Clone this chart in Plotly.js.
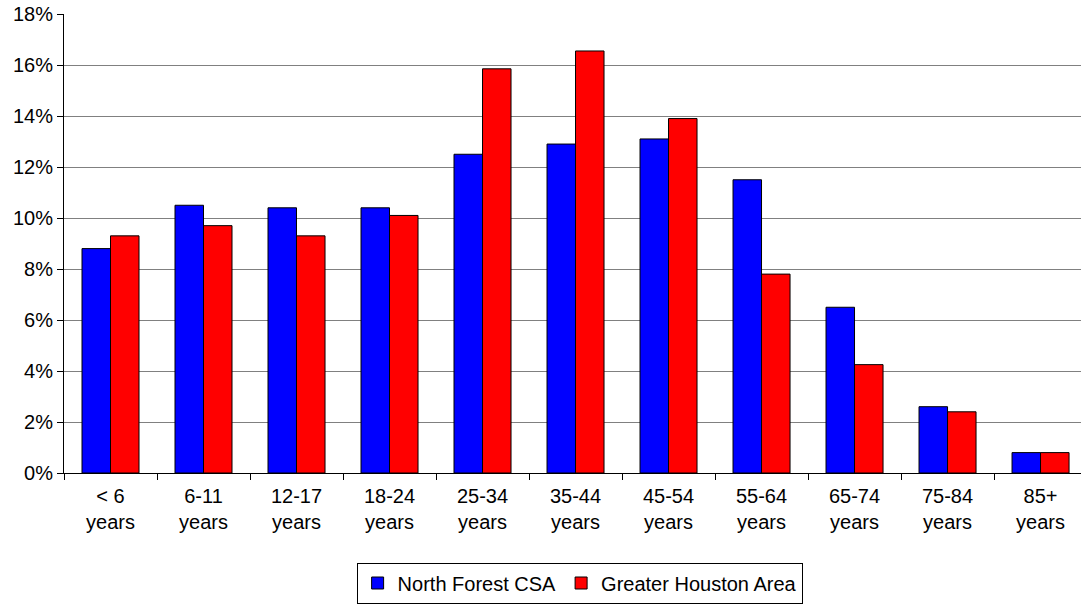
<!DOCTYPE html>
<html>
<head>
<meta charset="utf-8">
<script src="https://cdn.plot.ly/plotly-3.0.1.min.js"></script>
<style>html,body{margin:0;padding:0;background:#fff;}#chart{width:1081px;height:606px;}</style>
</head>
<body>
<div id="chart"></div>
<script>
const categories = ["&lt; 6<br>years","6-11<br>years","12-17<br>years","18-24<br>years","25-34<br>years","35-44<br>years","45-54<br>years","55-64<br>years","65-74<br>years","75-84<br>years","85+<br>years"];
const northForest = [8.8, 10.5, 10.4, 10.4, 12.5, 12.9, 13.1, 11.5, 6.5, 2.6, 0.8];
const greaterHouston = [9.3, 9.7, 9.3, 10.1, 15.85, 16.55, 13.9, 7.8, 4.25, 2.4, 0.8];
const yTicks = [0, 2, 4, 6, 8, 10, 12, 14, 16, 18];

const font = {family: "Liberation Sans, Arial, sans-serif", size: 20, color: "#000"};
const traces = [
  {type: "bar", name: "North Forest CSA", x: categories, y: northForest,
   marker: {color: "#0000ff", line: {color: "#000", width: 1}}, hoverinfo: "none"},
  {type: "bar", name: "Greater Houston Area", x: categories, y: greaterHouston,
   marker: {color: "#ff0000", line: {color: "#000", width: 1}}, hoverinfo: "none"}
];
const layout = {
  width: 1081, height: 606,
  margin: {l: 64, r: 0, t: 14, b: 133},
  paper_bgcolor: "#fff", plot_bgcolor: "#fff",
  font: font,
  barmode: "group", bargap: 0.387, bargroupgap: 0,
  showlegend: true,
  legend: {orientation: "h", x: 0.507, xanchor: "center", y: -0.195, yanchor: "top",
           bordercolor: "#000", borderwidth: 1, font: font, traceorder: "normal",
           itemwidth: 30},
  xaxis: {type: "category", range: [-0.5, 10.435], showline: true, linecolor: "#000", linewidth: 1,
          ticks: "outside", tickson: "boundaries", ticklen: 6, tickcolor: "#000",
          ticklabelstandoff: 5,
          showgrid: false, tickfont: font, fixedrange: true},
  yaxis: {range: [0, 18], tickvals: yTicks, ticktext: yTicks.map(v => v + "%"),
          showline: true, linecolor: "#000", linewidth: 1, ticks: "outside", ticklen: 6,
          tickcolor: "#000", showgrid: true, gridcolor: "#808080", gridwidth: 1,
          zeroline: false, tickfont: font, fixedrange: true}
};
Plotly.newPlot("chart", traces, layout, {staticPlot: true});
</script>
</body>
</html>
